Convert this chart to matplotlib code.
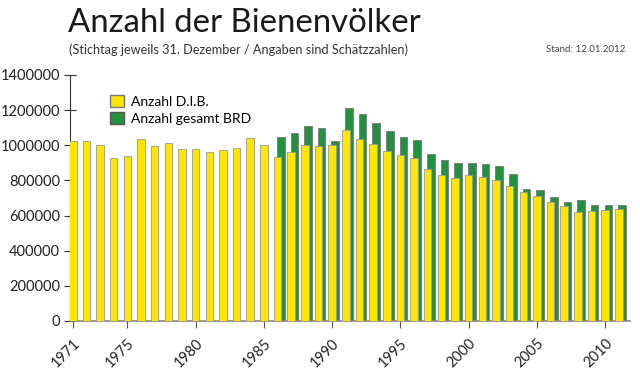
import numpy as np
import matplotlib
matplotlib.use("Agg")
import matplotlib.pyplot as plt
from matplotlib.patches import Patch

years = list(range(1971, 2012))

# Anzahl D.I.B. (yellow)
dib = [1024000, 1022000, 1001000, 929000, 939000, 1034000, 994000, 1015000,
       981000, 977000, 964000, 973000, 984000, 1040000, 1001000, 931000,
       962000, 1000000, 998000, 1001000, 1085000, 1036000, 1007000, 967000,
       943000, 927000, 865000, 829000, 816000, 831000, 819000, 802000,
       768000, 736000, 711000, 677000, 656000, 620000, 626000, 632000, 636000]

# Anzahl gesamt BRD (green), from 1986
brd_years = list(range(1986, 2012))
brd = [1045000, 1068000, 1107000, 1100000, 1027000, 1214000, 1180000, 1125000,
       1081000, 1047000, 1028000, 950000, 918000, 899000, 901000, 893000,
       882000, 838000, 751000, 744000, 704000, 679000, 687000, 660000, 660000, 662000]

xticks = [1971, 1975, 1980, 1985, 1990, 1995, 2000, 2005, 2010]
yticks = [0, 200000, 400000, 600000, 800000, 1000000, 1200000, 1400000]

plt.rcParams['font.family'] = ['Lato', 'DejaVu Sans']

yellow = "#FFE500"
green = "#23913F"

fig = plt.figure(figsize=(6.4, 3.75), dpi=100)
ax = fig.add_axes([0.109, 0.144, 0.875, 0.656])

ax.bar(np.array(brd_years) + 0.23, brd, width=0.56, color=green,
       edgecolor="#777777", linewidth=0.6, zorder=2)
ax.bar(years, dib, width=0.55, color=yellow,
       edgecolor="#999999", linewidth=0.6, zorder=3)

ax.set_xlim(1970.78, 2011.8)
ax.set_ylim(0, 1400000)
ax.set_xticks(xticks)
ax.set_xticklabels([str(t) for t in xticks], rotation=45, ha="right",
                   rotation_mode="anchor", fontsize=10.5, color="#222222")
ax.set_xticks(years, minor=True)
ax.set_yticks(yticks)
ax.set_yticklabels([str(t) for t in yticks], fontsize=10.5, color="#222222")

ax.tick_params(axis="x", which="major", direction="out", length=5, pad=6,
               color="#555555")
ax.tick_params(axis="x", which="minor", direction="in", length=5,
               color="#444444")
ax.tick_params(axis="y", direction="inout", length=8, color="#333333", pad=3)

for s in ["top", "right"]:
    ax.spines[s].set_visible(False)
ax.spines["left"].set_color("#333333")
ax.spines["bottom"].set_color("#888888")
ax.spines["bottom"].set_linewidth(1.2)

handles = [Patch(facecolor=yellow, edgecolor="#777777", label="Anzahl D.I.B."),
           Patch(facecolor=green, edgecolor="#555555", label="Anzahl gesamt BRD")]
ax.legend(handles=handles, loc="upper left", bbox_to_anchor=(0.05, 0.97),
          frameon=False, fontsize=10, handlelength=1.0, handleheight=1.0,
          handletextpad=0.5, labelspacing=0.3)

fig.text(0.106, 0.94, "Anzahl der Bienenvölker", fontsize=23.7, color="#1a1a1a",
         va="center", ha="left")
fig.text(0.108, 0.867, "(Stichtag jeweils 31. Dezember / Angaben sind Schätzzahlen)",
         fontsize=9.2, color="#333333", va="center", ha="left")
fig.text(0.978, 0.867, "Stand: 12.01.2012", fontsize=7, color="#444444",
         va="center", ha="right")

fig.savefig("out.png", dpi=100)
